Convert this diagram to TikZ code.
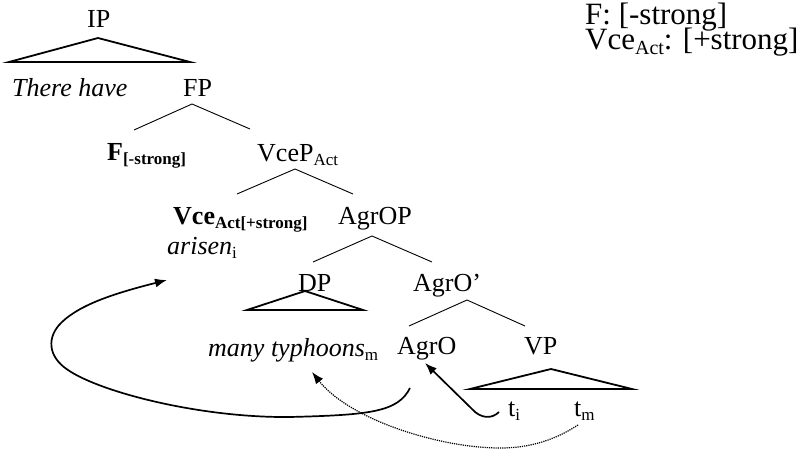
\documentclass[tikz,border=0pt]{standalone}
\usepackage{fontspec}
\setmainfont{Liberation Serif}
\usetikzlibrary{arrows.meta}
\newcommand\sbs[1]{\raisebox{-4pt}{\fontsize{17}{17}\selectfont #1}}
\newcommand\lsbs[1]{\raisebox{-5pt}{\fontsize{20}{20}\selectfont #1}}
\tikzset{
  lbl/.style={anchor=base west, inner sep=0pt, font=\fontsize{26}{30}\selectfont},
  legend/.style={anchor=base west, inner sep=0pt, font=\fontsize{31}{34}\selectfont},
  branch/.style={line width=0.9pt},
  tri/.style={line width=1.8pt, line join=miter},
  mv/.style={line width=1.7pt, -{Latex[length=12pt,width=9pt]}},
  dmv/.style={line width=1.2pt, densely dotted, -{Latex[length=12pt,width=9pt]}}
}
\begin{document}
\begin{tikzpicture}[x=1pt,y=-1pt]
\useasboundingbox (0,0) rectangle (804,449);
% right legend
\node[legend] (legF) at (585,25) {F: [-strong]};
\node[legend] (legV) at (585,50) {Vce\lsbs{Act}: [+strong]};
% tree labels
\node[lbl] (IP) at (87,28) {IP};
\node[lbl] (there) at (12,97) {\itshape There have};
\node[lbl] (FP) at (183,97) {FP};
\node[lbl] (F) at (107,161) {\bfseries F\sbs{[-strong]}};
\node[lbl] (VceP) at (257,162) {VceP\sbs{Act}};
\node[lbl] (Vce) at (173,225) {\bfseries Vce\sbs{Act[+strong]}};
\node[lbl] (AgrOP) at (338,225) {AgrOP};
\node[lbl] (arisen) at (167,255) {\itshape arisen\/\upshape\sbs{i}};
\node[lbl] (DP) at (298,292) {DP};
\node[lbl] (AgrObar) at (413,292) {AgrO'};
\node[lbl] (many) at (208,356) {\itshape many typhoons\upshape\sbs{m}};
\node[lbl] (AgrO) at (397,355) {AgrO};
\node[lbl] (VP) at (524,355) {VP};
\node[lbl] (ti) at (508,417) {t\sbs{i}};
\node[lbl] (tm) at (574,417) {t\sbs{m}};
% coordinates of branches
\coordinate (ipA) at (98,38);
\coordinate (ipL) at (9,62);
\coordinate (ipR) at (190,62);
\coordinate (fpA) at (192,104);
\coordinate (fpL) at (134,130);
\coordinate (fpR) at (250,129);
\coordinate (vpA) at (295,169);
\coordinate (vpL) at (237,194);
\coordinate (vpR) at (353,194);
\coordinate (aoA) at (372,236);
\coordinate (aoL) at (313,262);
\coordinate (aoR) at (432,262);
\coordinate (dpA) at (305,291);
\coordinate (dpL) at (247,310);
\coordinate (dpR) at (363,310);
\coordinate (abA) at (467,300);
\coordinate (abL) at (409,326);
\coordinate (abR) at (525,326);
\coordinate (vA) at (551,369);
\coordinate (vL) at (470,389);
\coordinate (vR) at (632,389);
% branches
\draw[tri] (ipL) -- (ipA) -- (ipR) -- cycle;
\draw[branch] (fpL) -- (fpA) -- (fpR);
\draw[branch] (vpL) -- (vpA) -- (vpR);
\draw[branch] (aoL) -- (aoA) -- (aoR);
\draw[tri] (dpL) -- (dpA) -- (dpR) -- cycle;
\draw[branch] (abL) -- (abA) -- (abR);
\draw[tri] (vL) -- (vA) -- (vR) -- cycle;
% movement arrows
\coordinate (bigS) at (410,388);
\coordinate (bigE) at (167,280);
\draw[mv] (bigS) .. controls (398,412) and (370,415) .. (290,417)
  .. controls (200,418) and (100,392) .. (68,370)
  .. controls (48,357) and (46,337) .. (62,322)
  .. controls (82,303) and (120,292) .. (bigE);
\coordinate (tiS) at (499,412);
\coordinate (tiE) at (425,363);
\draw[mv] (tiS) .. controls (492,419) and (481,419) .. (472,409) -- (tiE);
\coordinate (tmS) at (578,425);
\coordinate (tmE) at (312,372);
\draw[dmv] (tmS) .. controls (555,440) and (530,448) .. (500,448)
  .. controls (440,448) and (350,420) .. (tmE);
\end{tikzpicture}
\end{document}
